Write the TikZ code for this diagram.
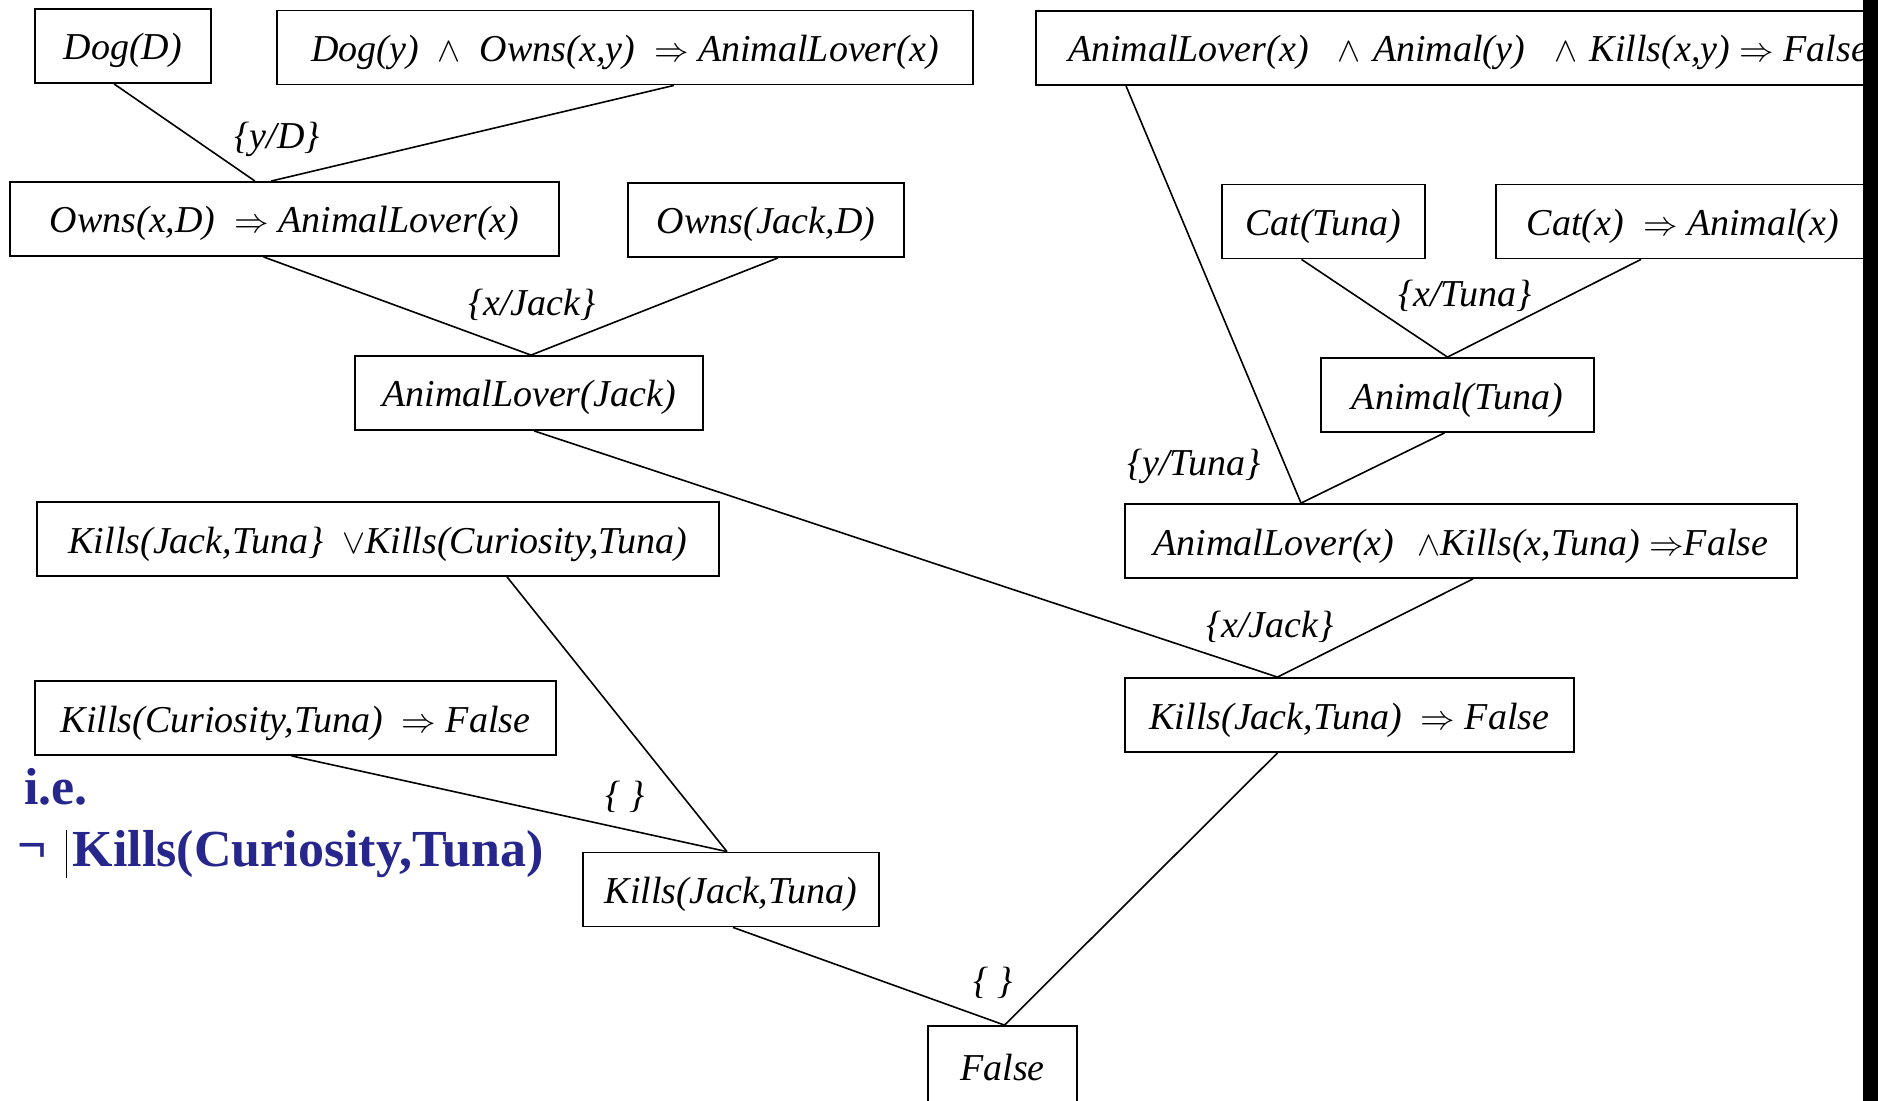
\documentclass[tikz,border=0pt]{standalone}
\usepackage{fontspec}
\setmainfont{Liberation Serif}
\usetikzlibrary{positioning}
\definecolor{ieblue}{RGB}{38,38,140}

\begin{document}
\begin{tikzpicture}[x=0.5pt,y=-0.5pt,line width=0.8pt,
    clause/.style={draw,line width=0.9pt,inner sep=0pt,minimum height=37pt,
      text height=14pt,text depth=0pt,font=\fontsize{19}{22}\selectfont\itshape},
    subst/.style={inner sep=0pt,text height=14pt,text depth=0pt,
      font=\fontsize{19}{22}\selectfont\itshape},
    note/.style={inner sep=0pt,text=ieblue,font=\fontsize{26}{30}\selectfont\bfseries}]
  \useasboundingbox (0,0) rectangle (1878,1101);
      % clauses
      \node[clause,minimum width=88pt] (dogd) at (123,46) {Dog(D)};
      \node[clause,minimum width=348pt] (dogrule) at (625,47.5)
        {Dog(y)\ \ $\wedge$\ \ Owns(x,y)\ \ $\Rightarrow$ AnimalLover(x)};
      \node[clause,minimum width=432pt] (killrule) at (1468,48)
        {AnimalLover(x)\ \ \hspace{5pt}$\wedge$\hspace{1.5pt} Animal(y)\ \ \hspace{5pt}$\wedge$\hspace{1.5pt} Kills(x,y) $\Rightarrow$ False};
      \node[clause,minimum width=274.5pt] (ownsxd) at (284.5,219)
        {Owns(x,D)\ \ $\Rightarrow$\ AnimalLover(x)};
      \node[clause,minimum width=138pt] (ownsjd) at (766,220) {Owns(Jack,D)};
      \node[clause,minimum width=101.5pt] (cattuna) at (1323.5,221.5) {Cat(Tuna)};
      \node[clause,minimum width=187pt] (catrule) at (1683,221.5)
        {Cat(x)\ \ $\Rightarrow$ Animal(x)};
      \node[clause,minimum width=174pt] (aljack) at (529,393) {AnimalLover(Jack)};
      \node[clause,minimum width=136.5pt] (animaltuna) at (1457.5,395) {Animal(Tuna)};
      \node[clause,minimum width=341pt] (killsor) at (378,539)
        {Kills(Jack,Tuna\}\ \ $\vee$Kills(Curiosity,Tuna)};
      \node[clause,minimum width=336pt] (alkills) at (1461,541)
        {AnimalLover(x)\ \ \hspace{2pt}$\wedge$Kills(x,Tuna) $\Rightarrow$False};
      \node[clause,minimum width=260.5pt] (killscur) at (295.5,718)
        {Kills(Curiosity,Tuna)\ \ $\Rightarrow$ False};
      \node[clause,minimum width=224.5pt] (killsjtf) at (1349.5,715)
        {Kills(Jack,Tuna)\ \ $\Rightarrow$ False};
      \node[clause,minimum width=148pt] (killsjt) at (731,889.5) {Kills(Jack,Tuna)};
      \node[clause,minimum width=74.5pt,minimum height=40pt] (false) at (1002.5,1066) {False};

      % substitutions
      \node[subst] (s_yd) at (277,135) {\{y/D\}};
      \node[subst] (s_xjack) at (532,302) {\{x/Jack\}};
      \node[subst] (s_xtuna) at (1465,293) {\{x/Tuna\}};
      \node[subst] (s_ytuna) at (1194,461) {\{y/Tuna\}};
      \node[subst] (s_xjack2) at (1270,623) {\{x/Jack\}};
      \node[subst] (s_none) at (625,793) {\{ \}};
      \node[subst] (s_none2) at (993,979) {\{ \}};

        \path
          ([xshift=-4.5pt]dogd.south) edge ([xshift=-14.75pt]ownsxd.north)
          ([xshift=24.5pt]dogrule.south) edge ([xshift=-6.75pt]ownsxd.north)

          ([xshift=-10.5pt]ownsxd.south) edge ([xshift=1pt]aljack.north)
          ([xshift=6pt]ownsjd.south) edge ([xshift=1pt]aljack.north)

          ([xshift=-11pt]cattuna.south) edge ([xshift=-5pt]animaltuna.north)
          ([xshift=-21pt]catrule.south) edge ([xshift=-5pt]animaltuna.north)

          ([xshift=-171pt]killrule.south) edge ([xshift=-80pt]alkills.north)
          ([xshift=-6.5pt]animaltuna.south) edge ([xshift=-80pt]alkills.north)

          ([xshift=2.5pt]aljack.south) edge ([xshift=-36pt]killsjtf.north)
          ([xshift=6pt]alkills.south) edge ([xshift=-36pt]killsjtf.north)

          ([xshift=64.5pt]killsor.south) edge ([xshift=-2pt]killsjt.north)
          ([xshift=-2pt]killscur.south) edge ([xshift=-2pt]killsjt.north)

          ([xshift=1pt]killsjt.south) edge ([xshift=1pt]false.north)
          ([xshift=-36pt]killsjtf.south) edge ([xshift=1pt]false.north);

      % note in blue
      \node[note] (ie) at (56,787) {i.e.};
      \node[note] (notsym) at (32,853) {¬};
      \node[note] (notkills) at (308,854) {Kills(Curiosity,Tuna)};
      \draw[line width=0.5pt] (66,830) -- (66,878);

      % bar at the right edge
      \fill (1863,0) rectangle (1878,1101);
\end{tikzpicture}
\end{document}
